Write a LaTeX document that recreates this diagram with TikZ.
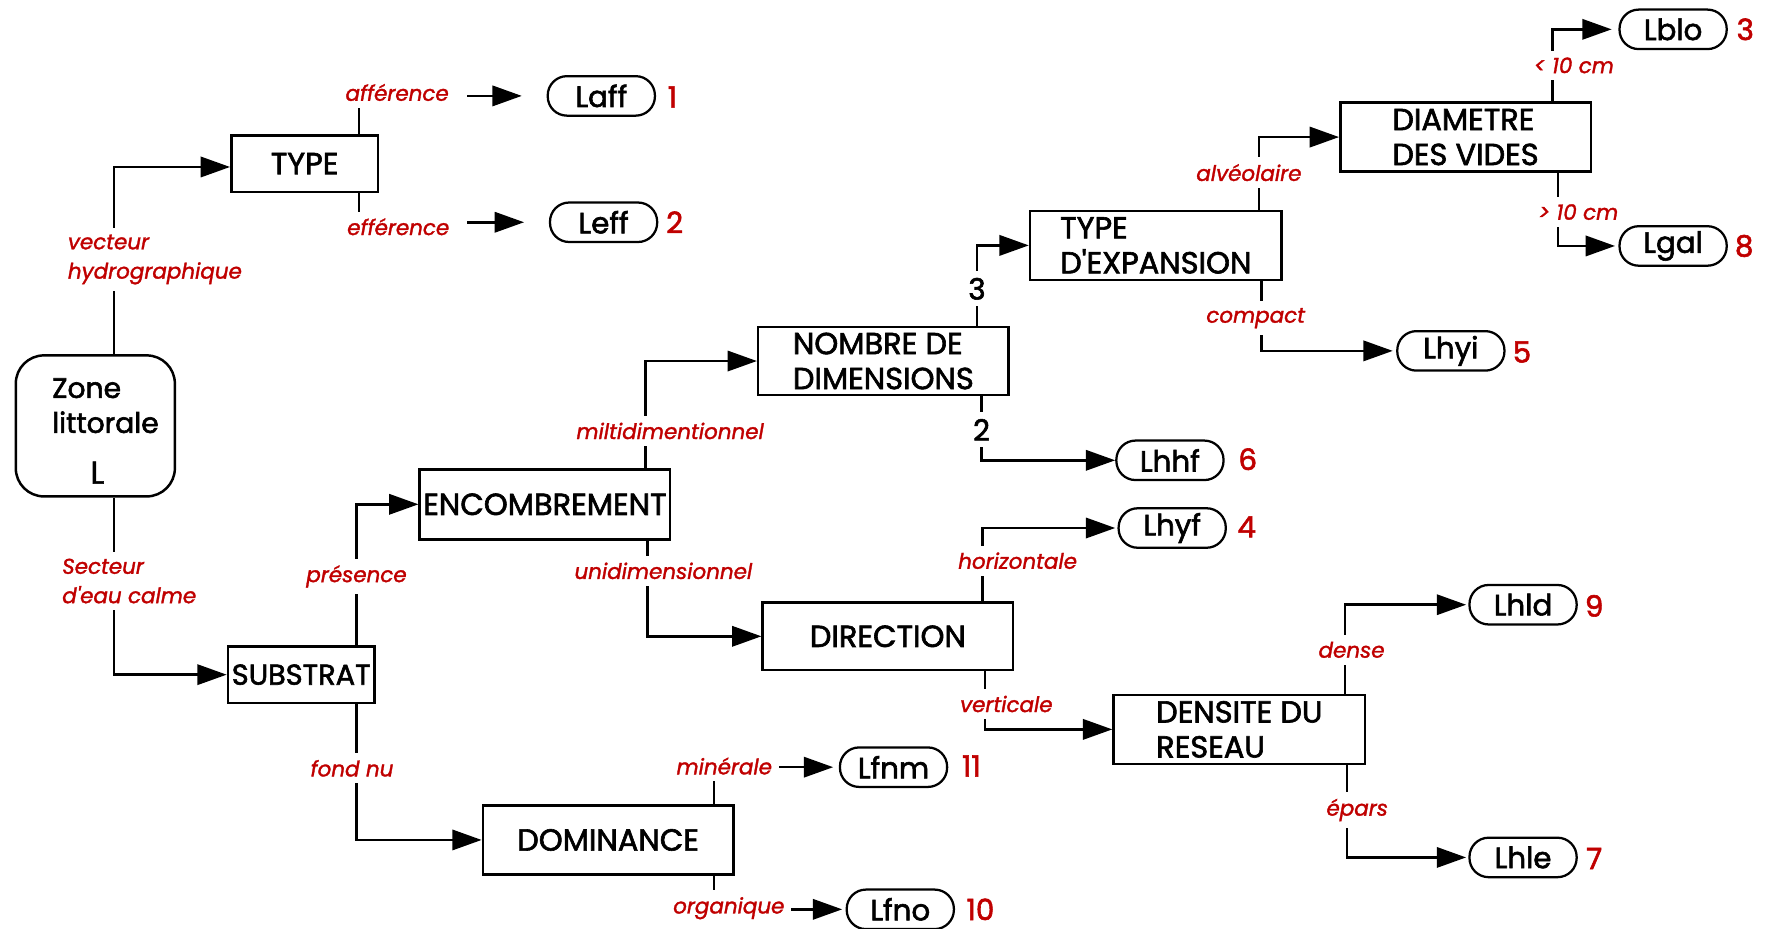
\documentclass[tikz,border=0pt]{standalone}
\usepackage{fontspec}
\setmainfont{Poppins}
\newfontfamily\gfont{Poppins}[FakeBold=2]
\newfontfamily\lfont{Poppins}[FakeBold=1.5]
\usetikzlibrary{arrows.meta}
\definecolor{lred}{RGB}{192,0,0}
\begin{document}
\begin{tikzpicture}[x=1pt,y=-1pt,
  box/.style={draw, line width=2.2pt, minimum width=222pt, minimum height=61pt, font=\gfont\fontsize{27}{31}\selectfont, align=left, inner sep=0pt},
  sbox/.style={box, minimum width=130pt, minimum height=50pt},
  pill/.style={draw, line width=2pt, rounded corners=17pt, minimum width=95pt, minimum height=35pt, font=\gfont\fontsize{26}{28}\selectfont, inner sep=0pt},
  lab/.style={fill=white, text=lred, font=\lfont\fontsize{19}{24}\selectfont\itshape, inner xsep=6pt, inner ysep=6pt, align=left},
  blab/.style={fill=white, font=\gfont\fontsize{26}{30}\selectfont, inner xsep=4pt, inner ysep=6pt},
  num/.style={text=lred, font=\gfont\fontsize{26}{30}\selectfont, inner sep=0pt},
  conn/.style={line width=2.2pt, -{Triangle[length=26pt,width=18pt]}}]
\useasboundingbox (0,0) rectangle (1568,823);

% boxes
\node[draw, line width=2.2pt, rounded corners=25pt, minimum width=141pt, minimum height=125pt, font=\gfont\fontsize{25}{31}\selectfont, inner sep=0pt] (zone) at (84.5,377.5) {\raisebox{-7pt}[\height][\depth]{\hspace*{18pt}\begin{tabular}{@{}l@{}}Zone\\littorale\\[14pt]\hspace*{34pt}{\fontsize{28}{31}\selectfont L}\end{tabular}}};
\node[sbox] (type) at (270,145) {TYPE};
\node[sbox, font=\gfont\fontsize{25.5}{31}\selectfont] (substrat) at (267,598) {SUBSTRAT};
\node[box, minimum height=62pt] (encomb) at (483,447) {ENCOMBREMENT};
\node[box] (domin) at (539,744.5) {DOMINANCE};
\node[box, minimum height=60pt] (nombre) at (783,320) {NOMBRE DE\\DIMENSIONS};
\node[box, minimum height=60pt] (direction) at (787,564) {DIRECTION};
\node[box, minimum width=223pt] (typeexp) at (1024.5,217.5) {TYPE\\D'EXPANSION};
\node[box] (diam) at (1299,121.5) {DIAMETRE\\DES VIDES};
\node[box, minimum width=223pt] (densite) at (1098.5,646.5) {DENSITE DU\\RESEAU};

% terminal pills
\node[pill] (laff) at (533,85) {Laff};
\node[pill] (leff) at (535,197) {Leff};
\node[pill] (lblo) at (1483,26) {Lblo};
\node[pill] (lgal) at (1483,218) {Lgal};
\node[pill] (lhyi) at (1286,311) {Lhyi};
\node[pill] (lhhf) at (1037,408) {Lhhf};
\node[pill] (lhyf) at (1039,468) {Lhyf};
\node[pill] (lhld) at (1350,536) {Lhld};
\node[pill] (lhle) at (1350,760) {Lhle};
\node[pill] (lfnm) at (792,680) {Lfnm};
\node[pill] (lfno) at (798,806) {Lfno};

% numbers
\node[num] (n1) at (596,86) {1};
\node[num] (n2) at (598,197) {2};
\node[num] (n3) at (1547,26) {3};
\node[num] (n8) at (1546,218) {8};
\node[num] (n5) at (1349,312) {5};
\node[num] (n6) at (1106,407) {6};
\node[num] (n4) at (1105,467) {4};
\node[num] (n9) at (1413,537) {9};
\node[num] (n7) at (1413,761) {7};
\node[num] (n11) at (861,679) {11};
\node[num] (n10) at (869,806) {10};

% connectors
\draw[conn] ([xshift=16.5pt]zone.north) |- ([yshift=-3pt]type.west);
\draw[conn] ([xshift=16.5pt]zone.south) |- (substrat.west);
\draw[conn, shorten >=22pt] ([xshift=48pt]type.north) |- (laff.west);
\draw[conn, shorten >=22pt] ([xshift=48pt]type.south) |- (leff.west);
\draw[conn] ([xshift=49pt]substrat.north) |- (encomb.west);
\draw[conn] ([xshift=49pt]substrat.south) |- (domin.west);
\draw[conn] ([xshift=89pt]encomb.north) |- (nombre.west);
\draw[conn] ([xshift=91pt]encomb.south) |- (direction.west);
\draw[conn, shorten >=5pt] ([xshift=94pt]domin.north) |- (lfnm.west);
\draw[conn, shorten >=3pt] ([xshift=94pt]domin.south) |- (lfno.west);
\draw[conn] ([xshift=83pt]nombre.north) |- (typeexp.west);
\draw[conn] ([xshift=87pt]nombre.south) |- (lhhf.west);
\draw[conn] ([xshift=91.5pt]typeexp.north) |- (diam.west);
\draw[conn, shorten >=3pt] ([xshift=93.5pt]typeexp.south) |- (lhyi.west);
\draw[conn, shorten >=6pt] ([xshift=77pt]diam.north) |- (lblo.west);
\draw[conn, shorten >=3pt] ([xshift=82pt]diam.south) |- (lgal.west);
\draw[conn, shorten >=2pt] ([xshift=84pt]direction.north) |- (lhyf.west);
\draw[conn] ([xshift=86pt]direction.south) |- (densite.west);
\draw[conn, shorten >=2pt] ([xshift=93.5pt]densite.north) |- (lhld.west);
\draw[conn, shorten >=2pt] ([xshift=95.5pt]densite.south) |- (lhle.west);

% labels
\node[lab, anchor=west, font=\lfont\fontsize{19}{26}\selectfont\itshape] (l1) at (54,230) {vecteur\\hydrographique};
\node[lab, anchor=west, font=\lfont\fontsize{19}{26}\selectfont\itshape] (l2) at (49,515) {Secteur\\d'eau calme};
\node[lab, inner xsep=16pt] (l3) at (352,82) {afférence};
\node[lab, inner xsep=16pt] (l4) at (353,201) {efférence};
\node[lab] (l5) at (316,511) {présence};
\node[lab] (l6) at (312,681) {fond nu};
\node[lab] (l7) at (594,382) {miltidimentionnel};
\node[lab] (l8) at (588,506) {unidimensionnel};
\node[lab] (l9) at (642,679) {minérale};
\node[lab] (l10) at (646,805) {organique};
\node[blab] (l11) at (866,256) {3};
\node[blab] (l12) at (870,381) {2};
\node[lab] (l13) at (1107,153) {alvéolaire};
\node[lab] (l14) at (1113,282) {compact};
\node[lab] (l15) at (1395,58) {< 10 cm};
\node[lab] (l16) at (1399,188) {> 10 cm};
\node[lab] (l17) at (902,497) {horizontale};
\node[lab] (l18) at (892,624) {verticale};
\node[lab] (l19) at (1198,576) {dense};
\node[lab] (l20) at (1203,718) {épars};
\end{tikzpicture}
\end{document}
